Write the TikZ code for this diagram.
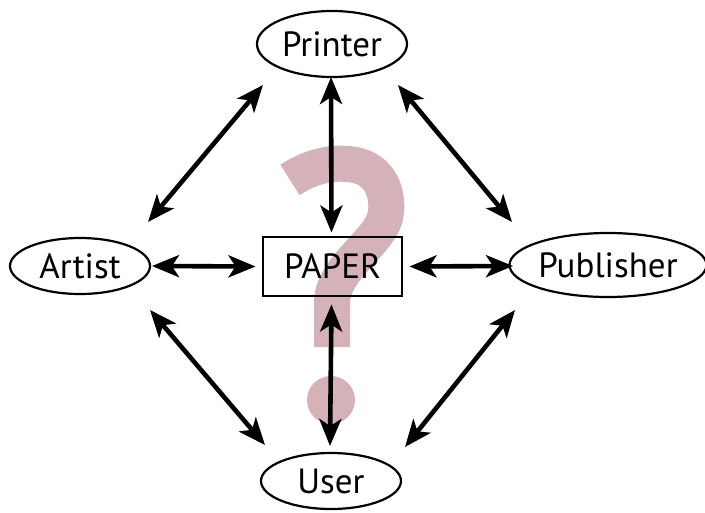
\documentclass[tikz,border=0pt]{standalone}
\usepackage{fontspec}
\setmainfont{PT Sans}
\usetikzlibrary{shapes.geometric,arrows.meta,calc}
\definecolor{qpink}{RGB}{213,177,185}
\tikzset{
  party/.style={ellipse,draw,line width=2.2pt,inner sep=0pt,font=\fontsize{35}{35}\selectfont},
  paperbox/.style={rectangle,draw,line width=2.2pt,inner sep=0pt,font=\fontsize{35}{35}\selectfont},
  link/.style={line width=4.6pt,{Stealth[length=27pt,width=22pt,inset=7pt]}-{Stealth[length=27pt,width=22pt,inset=7pt]}}
}
\begin{document}
\begin{tikzpicture}[x=1pt,y=-1pt]
\useasboundingbox (0,0) rectangle (705,512);
% large question mark behind everything
\draw[qpink,line width=36pt] (290,180) .. controls (315,163) and (340,162) .. (355,165)
  .. controls (380,170) and (388,192) .. (386,212)
  .. controls (384,240) and (335,265) .. (332,300) -- (332,347);
\fill[qpink] (331,400) circle (24);
% nodes
\node[party,minimum width=150pt,minimum height=66pt] (printer) at (332,44) {Printer};
\node[party,minimum width=140pt,minimum height=56pt] (artist) at (80,266) {Artist};
\node[party,minimum width=178pt,minimum height=64pt] (publisher) at (608,265) {Publisher};
\node[party,minimum width=140pt,minimum height=56pt] (user) at (331,481) {User};
\node[paperbox,minimum width=139pt,minimum height=59pt] (paper) at (332.5,266.5) {PAPER};
% connectors
\draw[link] ($(printer)+(-1,33)$) -- ($(paper)+(-1,-34)$);
\draw[link] ($(paper)+(-1,38)$) -- ($(user)+(-1,-35)$);
\draw[link] ($(artist)+(72,0)$) -- ($(paper)+(-77,0)$);
\draw[link] ($(paper)+(77,0)$) -- ($(publisher)+(-95,1)$);
\draw[link] ($(printer)+(-69,41)$) -- ($(artist)+(68,-44)$);
\draw[link] ($(printer)+(66,41)$) -- ($(publisher)+(-96,-43)$);
\draw[link] ($(artist)+(70,44)$) -- ($(user)+(-66,-36)$);
\draw[link] ($(publisher)+(-93,45)$) -- ($(user)+(74,-34)$);
\end{tikzpicture}
\end{document}
